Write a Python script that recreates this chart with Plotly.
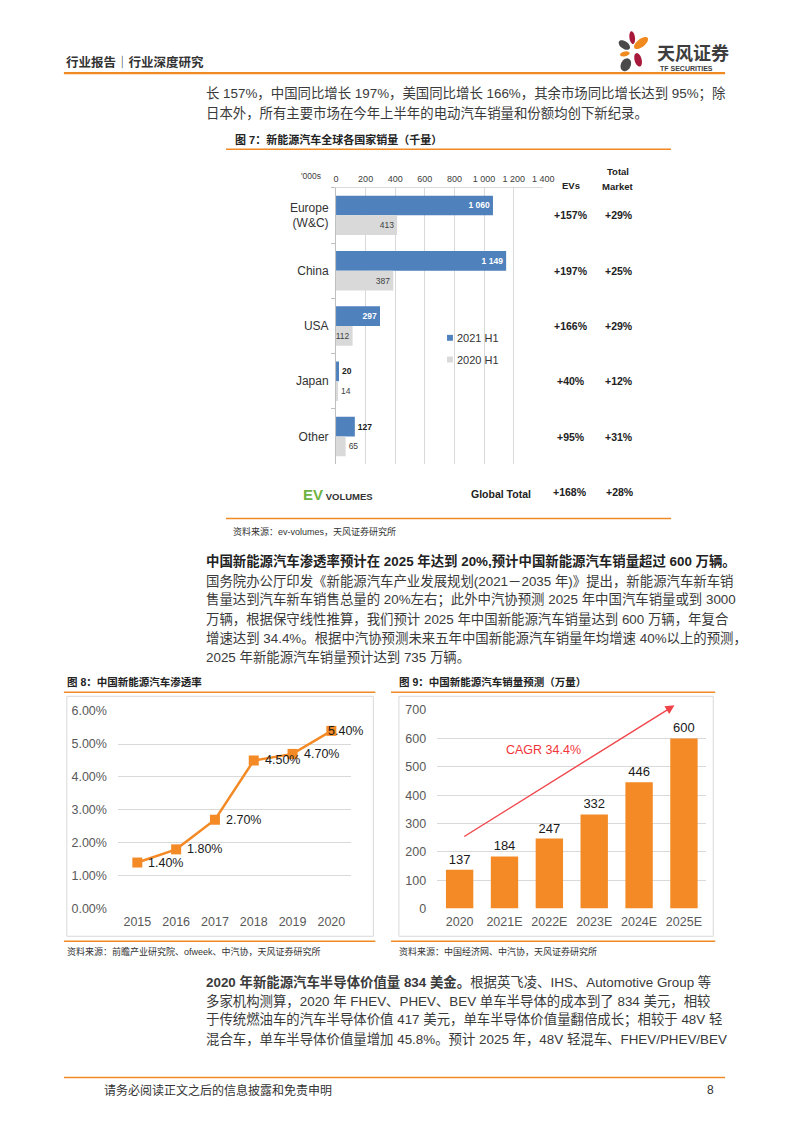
import numpy as np
import plotly.graph_objects as go

W, H = 794, 1123


def px(x):
    return x / W


def py(y):
    return 1 - y / H


FONT = "Liberation Sans, Arial, Noto Sans CJK SC, sans-serif"
ORANGE = "#F08A24"
BAR_ORANGE = "#F38A25"
BLUE = "#4F81BD"
GREY = "#D9D9D9"
TXT = "#3a3a3a"
BODY = 13.4

# ---------------- data ----------------
regions = ["Europe<br>(W&C)", "China", "USA", "Japan", "Other"]
ev_2021h1 = [1060, 1149, 297, 20, 127]
ev_2020h1 = [413, 387, 112, 14, 65]
ev_growth = ["+157%", "+197%", "+166%", "+40%", "+95%"]
total_growth = ["+29%", "+25%", "+29%", "+12%", "+31%"]
global_growth = ["+168%", "+28%"]
series_names = ["2021 H1", "2020 H1"]

pen_years = ["2015", "2016", "2017", "2018", "2019", "2020"]
pen_rate = [0.014, 0.018, 0.027, 0.045, 0.047, 0.054]

sales_years = ["2020", "2021E", "2022E", "2023E", "2024E", "2025E"]
sales = [137, 184, 247, 332, 446, 600]

# ---------------- figure ----------------
fig = go.Figure()

# Figure 7: horizontal grouped bars
fig.add_trace(go.Bar(
    y=regions, x=ev_2021h1, orientation="h", name=series_names[0],
    marker=dict(color=BLUE, line=dict(width=0)),
    width=0.357, offset=-0.357,
    texttemplate="<b>%{x:,d}</b>",
    textposition=["inside", "inside", "inside", "outside", "outside"],
    insidetextanchor="end", textangle=0, constraintext="none",
    insidetextfont=dict(color="white", size=8.5, family=FONT),
    outsidetextfont=dict(color="#1a1a1a", size=8.5, family=FONT),
    cliponaxis=False, xaxis="x", yaxis="y", showlegend=False,
))
fig.add_trace(go.Bar(
    y=regions, x=ev_2020h1, orientation="h", name=series_names[1],
    marker=dict(color=GREY, line=dict(width=0)),
    width=0.357, offset=0,
    texttemplate="%{x:,d}",
    textposition=["inside", "inside", "inside", "outside", "outside"],
    insidetextanchor="end", textangle=0, constraintext="none",
    insidetextfont=dict(color="#404040", size=8.5, family=FONT),
    outsidetextfont=dict(color="#404040", size=8.5, family=FONT),
    cliponaxis=False, xaxis="x", yaxis="y", showlegend=False,
))

# Figure 8: line
fig.add_trace(go.Scatter(
    x=pen_years, y=pen_rate, mode="lines+markers",
    line=dict(color=BAR_ORANGE, width=2.5),
    marker=dict(symbol="square", size=10, color=BAR_ORANGE),
    xaxis="x2", yaxis="y2", showlegend=False, cliponaxis=False,
))

# Figure 9: bars
fig.add_trace(go.Bar(
    x=sales_years, y=sales, marker=dict(color=BAR_ORANGE, line=dict(width=0)),
    width=0.61, text=sales, textposition="outside",
    textfont=dict(color="#1a1a1a", size=13, family=FONT),
    cliponaxis=False, xaxis="x3", yaxis="y3", showlegend=False,
))

annotations = []


def txt(x, y, s, size=BODY, color=TXT, anchor="left", bold=False):
    if bold:
        s = "<b>" + s + "</b>"
    annotations.append(dict(
        x=px(x), y=py(y), xref="paper", yref="paper", text=s, showarrow=False,
        xanchor=anchor, yanchor="middle",
        font=dict(size=size, color=color, family=FONT)))


# header
txt(62, 56, "行业报告｜行业深度研究", size=12.5, color="#333", bold=True)
txt(664, 47, "天风证券", size=18, color="#3d3d3d", bold=True)
txt(667, 62, "TF SECURITIES", size=7, color="#3d3d3d", bold=True)

# top paragraph
txt(205, 88, "长 157%，中国同比增长 197%，美国同比增长 166%，其余市场同比增长达到 95%；除")
txt(205, 107, "日本外，所有主要市场在今年上半年的电动汽车销量和份额均创下新纪录。")

# figure 7 texts
txt(234, 134, "图 7：新能源汽车全球各国家销量（千量）", size=11, color="#222", bold=True)
txt(326, 171, "'000s", size=8.5, color="#404040", anchor="right")
txt(578, 181, "EVs", size=9.5, color="#222", anchor="center", bold=True)
txt(626, 167, "Total", size=9.5, color="#222", anchor="center", bold=True)
txt(626, 182, "Market", size=9.5, color="#222", anchor="center", bold=True)
for reg, g1, g2 in zip(regions, ev_growth, total_growth):
    annotations.append(dict(x=px(578), y=reg, xref="paper", yref="y", text="<b>" + g1 + "</b>",
                            showarrow=False, xanchor="center", yanchor="middle",
                            font=dict(size=10.5, color="#222", family=FONT)))
    annotations.append(dict(x=px(627), y=reg, xref="paper", yref="y", text="<b>" + g2 + "</b>",
                            showarrow=False, xanchor="center", yanchor="middle",
                            font=dict(size=10.5, color="#222", family=FONT)))
txt(507, 493, "Global Total", size=10.5, color="#222", anchor="center", bold=True)
txt(577, 491, global_growth[0], size=10.5, color="#222", anchor="center", bold=True)
txt(628, 491, global_growth[1], size=10.5, color="#222", anchor="center", bold=True)
txt(303, 494, '<span style="color:#6DB33F;font-size:15px"><b>EV</b></span>'
              '<span style="font-size:9.5px"><b> VOLUMES</b></span>', size=9.5, color="#333")
# legend
txt(460, 335, series_names[0], size=11, color="#333")
txt(460, 357, series_names[1], size=11, color="#333")
txt(232, 531, "资料来源：ev-volumes，天风证券研究所", size=9, color="#333")

# middle paragraph
txt(205, 561, "中国新能源汽车渗透率预计在 2025 年达到 20%,预计中国新能源汽车销量超过 600 万辆。",
    color="#222", bold=True)
mid_lines = [
    "国务院办公厅印发《新能源汽车产业发展规划(2021－2035 年)》提出，新能源汽车新车销",
    "售量达到汽车新车销售总量的 20%左右；此外中汽协预测 2025 年中国汽车销量或到 3000",
    "万辆，根据保守线性推算，我们预计 2025 年中国新能源汽车销量达到 600 万辆，年复合",
    "增速达到 34.4%。根据中汽协预测未来五年中国新能源汽车销量年均增速 40%以上的预测，",
    "2025 年新能源汽车销量预计达到 735 万辆。",
]
for i, s in enumerate(mid_lines):
    txt(205, 581 + i * 19.3, s)

# figure 8 / 9 titles & sources
txt(63, 684, "图 8：中国新能源汽车渗透率", size=10.5, color="#222", bold=True)
txt(401, 684, "图 9：中国新能源汽车销量预测（万量）", size=10.5, color="#222", bold=True)
txt(63, 956, "资料来源：前瞻产业研究院、ofweek、中汽协，天风证券研究所", size=9, color="#333")
txt(401, 956, "资料来源：中国经济网、中汽协，天风证券研究所", size=9, color="#333")

# figure 8 data labels (category index positions)
for i, v in enumerate(pen_rate):
    annotations.append(dict(x=i, y=v, xref="x2", yref="y2", text=f"{v * 100:.2f}%",
                            showarrow=False, xanchor="left", yanchor="middle",
                            xshift=9 if i < len(pen_rate) - 1 else -5,
                            font=dict(size=12.5, color="#1a1a1a", family=FONT)))

# figure 9 arrow and CAGR
annotations.append(dict(x=4.79, y=717, ax=0.07, ay=251, xref="x3", yref="y3", axref="x3", ayref="y3",
                        text="", showarrow=True, arrowhead=2, arrowsize=1.3, arrowwidth=1.4,
                        arrowcolor="#F0444A"))
annotations.append(dict(x=1.88, y=561, xref="x3", yref="y3", text="CAGR 34.4%", showarrow=False,
                        xanchor="center", yanchor="middle",
                        font=dict(size=12.5, color="#F2353B", family=FONT)))

# bottom paragraph
bot_lines = [
    "<b>2020 年新能源汽车半导体价值量 834 美金。</b>根据英飞凌、IHS、Automotive Group 等",
    "多家机构测算，2020 年 FHEV、PHEV、BEV 单车半导体的成本到了 834 美元，相较",
    "于传统燃油车的汽车半导体价值 417 美元，单车半导体价值量翻倍成长；相较于 48V 轻",
    "混合车，单车半导体价值量增加 45.8%。预计 2025 年，48V 轻混车、FHEV/PHEV/BEV",
]
for i, s in enumerate(bot_lines):
    txt(205, 987 + i * 19.3, s)

# footer
txt(101, 1097, "请务必阅读正文之后的信息披露和免责申明", size=12, color="#333")
txt(726, 1097, "8", size=12, color="#333", anchor="right")

# ---------------- shapes ----------------
shapes = []


def hline(x0, x1, y, color=ORANGE, w=1.5):
    shapes.append(dict(type="line", xref="paper", yref="paper", x0=px(x0), x1=px(x1),
                       y0=py(y), y1=py(y), line=dict(color=color, width=w)))


def rect(x0, y0, x1, y1, color="#D9D9D9", fill=None):
    shapes.append(dict(type="rect", xref="paper", yref="paper", x0=px(x0), x1=px(x1),
                       y0=py(y1), y1=py(y0), line=dict(color=color, width=1 if fill is None else 0),
                       fillcolor=fill))


def petal(cx, cy, rx, ry, ang, color):
    t = np.linspace(0, 2 * np.pi, 28, endpoint=False)
    a = np.deg2rad(ang)
    xs = cx + rx * np.cos(t) * np.cos(a) - ry * np.sin(t) * np.sin(a)
    ys = cy + rx * np.cos(t) * np.sin(a) + ry * np.sin(t) * np.cos(a)
    path = "M " + " L ".join(f"{px(x):.5f},{py(y):.5f}" for x, y in zip(xs, ys)) + " Z"
    shapes.append(dict(type="path", xref="paper", yref="paper", path=path,
                       fillcolor=color, line=dict(width=0)))


# logo
petal(640.5, 31, 2.8, 6.5, -8, "#A8183B")
petal(649.5, 36.5, 8.5, 4.0, -38, "#F08A1E")
petal(632.5, 38.5, 6.5, 3.8, 35, "#4a4a4a")
petal(633, 47.5, 5.0, 2.4, -12, "#F08A1E")
petal(646.5, 53.5, 3.6, 7.0, -15, "#A8183B")
petal(634, 58.5, 5.0, 6.8, 25, "#4a4a4a")

hline(62, 735, 67, w=2.2)
hline(227, 680, 144)
hline(227, 680, 518)
hline(62, 379, 694)
hline(62, 379, 946)
hline(395, 725, 694)
hline(395, 725, 946)
hline(62, 735, 1084)

rect(65, 698, 377, 941)
rect(403, 698, 723, 941)

# legend swatches (fig 7)
rect(452, 332, 458, 338, fill=BLUE)
rect(452, 354, 458, 360, fill=GREY)

fig.update_layout(
    width=W, height=H, autosize=False,
    margin=dict(l=0, r=0, t=0, b=0),
    paper_bgcolor="white", plot_bgcolor="rgba(0,0,0,0)",
    separators=". ",
    barmode="overlay",
    font=dict(family=FONT, color=TXT),
    annotations=annotations, shapes=shapes, showlegend=False,
    xaxis=dict(domain=[px(339), px(550)], range=[0, 1400], dtick=200, tickformat=",d",
               side="top", showgrid=True, gridcolor="#D9D9D9", gridwidth=1, zeroline=False,
               showline=True, linecolor="#D9D9D9", ticks="", ticklabelstandoff=1,
               tickfont=dict(size=9, color="#404040", family=FONT), fixedrange=True),
    yaxis=dict(domain=[py(463), py(183)], type="category", categoryorder="array",
               categoryarray=regions,
               autorange="reversed", showgrid=False, zeroline=False, showline=True,
               linecolor="#BFBFBF", ticks="outside", ticklen=4, tickcolor="#BFBFBF",
               tickson="boundaries", ticklabelstandoff=4,
               tickfont=dict(size=12, color="#333", family=FONT), anchor="x"),
    xaxis2=dict(domain=[px(117), px(354)], anchor="y2", type="category",
                range=[-0.5, 5.5], showgrid=False, zeroline=False,
                showline=False, ticks="", ticklabelstandoff=4,
                tickfont=dict(size=12.5, color="#595959", family=FONT)),
    yaxis2=dict(domain=[py(913), py(713)], anchor="x2", range=[0, 0.06], dtick=0.01,
                tickformat=".2%", showgrid=True, gridcolor="#D9D9D9", zeroline=False,
                showline=False, ticks="", ticklabelstandoff=10,
                tickfont=dict(size=12.5, color="#595959", family=FONT)),
    xaxis3=dict(domain=[px(442), px(716)], anchor="y3", type="category",
                range=[-0.5, 5.5], showgrid=False, zeroline=False,
                showline=False, ticks="", ticklabelstandoff=4,
                tickfont=dict(size=12.5, color="#595959", family=FONT)),
    yaxis3=dict(domain=[py(913), py(712)], anchor="x3", range=[0, 700], dtick=100,
                showgrid=True, gridcolor="#D9D9D9", zeroline=False, showline=False, ticks="",
                ticklabelstandoff=10, tickfont=dict(size=12.5, color="#595959", family=FONT)),
)

fig.write_html("out.html")
